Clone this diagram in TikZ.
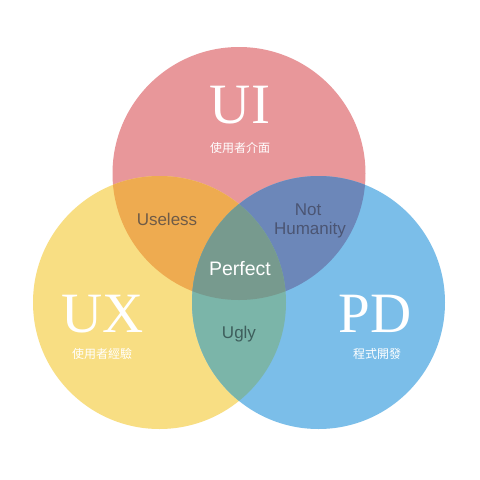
\documentclass[tikz,border=0pt]{standalone}
\usepackage{fontspec}
\setmainfont{Liberation Serif}
\newfontfamily\lblfont{Liberation Sans}
\newfontfamily\cjk{Noto Sans CJK TC}
\definecolor{uicol}{HTML}{E8979A}
\definecolor{uxcol}{HTML}{F8DE83}
\definecolor{pdcol}{HTML}{7BBEE9}
\definecolor{uiuxcol}{HTML}{EEAB50}
\definecolor{uipdcol}{HTML}{6C87B9}
\definecolor{uxpdcol}{HTML}{7BB5A9}
\definecolor{allcol}{HTML}{779A8E}
\definecolor{txtuseless}{HTML}{6F5B47}
\definecolor{txtnot}{HTML}{4B5573}
\definecolor{txtugly}{HTML}{3E5E5C}
\tikzset{
  bigname/.style={text=white, inner sep=0pt, anchor=base, font=\fontsize{57}{57}\selectfont},
  subname/.style={text=white, inner sep=0pt, anchor=center, font=\cjk\fontsize{12}{12}\selectfont},
  lbl/.style={inner sep=0pt, anchor=base, font=\lblfont\fontsize{17}{17}\selectfont}
}
\begin{document}
\begin{tikzpicture}[x=1pt,y=-1pt]
\fill[white] (0,0) rectangle (480,480);
\coordinate (cI) at (239,173.5);
\coordinate (cX) at (159.5,302.5);
\coordinate (cP) at (318.5,302.5);
\def\R{126.5pt}
\fill[uicol] (cI) circle (\R);
\fill[uxcol] (cX) circle (\R);
\fill[pdcol] (cP) circle (\R);
\begin{scope}
  \clip (cI) circle (\R);
  \fill[uiuxcol] (cX) circle (\R);
  \fill[uipdcol] (cP) circle (\R);
\end{scope}
\begin{scope}
  \clip (cX) circle (\R);
  \fill[uxpdcol] (cP) circle (\R);
\end{scope}
\begin{scope}
  \clip (cI) circle (\R);
  \clip (cX) circle (\R);
  \fill[allcol] (cP) circle (\R);
\end{scope}
\node[bigname] (ui) at (240,123) {UI};
\node[subname] (uisub) at (240,148) {使用者介面};
\node[bigname] (ux) at (103,332) {UX};
\node[subname] (uxsub) at (102,354) {使用者經驗};
\node[bigname] (pd) at (375,332) {PD};
\node[subname] (pdsub) at (377,354) {程式開發};
\node[lbl, text=txtuseless] (useless) at (167,225) {Useless};
\node[lbl, text=txtnot] (not) at (308,215) {Not};
\node[lbl, text=txtnot] (humanity) at (310,234) {Humanity};
\node[lbl, text=white, font=\lblfont\fontsize{19.5}{19.5}\selectfont] (perfect) at (240,275) {Perfect};
\node[lbl, text=txtugly] (ugly) at (239,338) {Ugly};
\end{tikzpicture}
\end{document}
